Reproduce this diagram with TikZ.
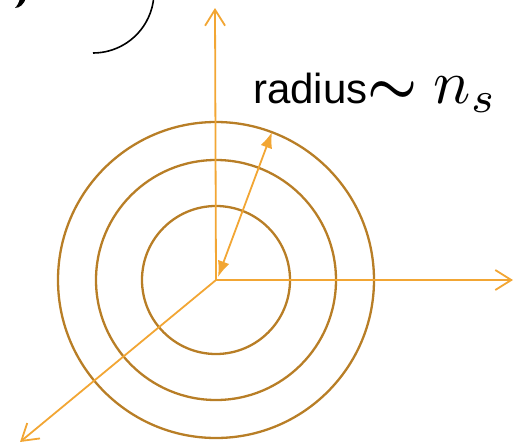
\documentclass[tikz,border=0pt]{standalone}
\usepackage{graphicx}
\usepackage{fontspec}
\setmainfont{Liberation Sans}
\usetikzlibrary{arrows.meta}
\definecolor{ringc}{RGB}{184,126,38}
\definecolor{axisc}{RGB}{242,166,52}
\begin{document}
\begin{tikzpicture}[x=1pt,y=-1pt,
  ring/.style={draw=ringc,line width=2.3pt},
  axisline/.style={draw=axisc,line width=1.8pt,-{Straight Barb[length=16pt,width=20pt,line width=1.8pt]}},
  radarrow/.style={draw=axisc,line width=1.8pt,{Latex[length=16pt,width=12pt]}-{Latex[length=16pt,width=12pt]}}]
\useasboundingbox (0,0) rectangle (515,445);
\clip (0,0) rectangle (515,445);
\coordinate (O) at (216,280);
\coordinate (yt) at (215,8);
\coordinate (xt) at (513,280);
\coordinate (zt) at (20,442);
\coordinate (r0) at (218,277);
\coordinate (r1) at (272,132);
% rings
\draw[ring] (O) circle[radius=74];
\draw[ring] (O) circle[radius=120];
\draw[ring] (O) circle[radius=158];
% axes
\draw[axisline] (O) -- (yt);
\draw[axisline] (O) -- (xt);
\draw[axisline] (O) -- (zt);
\draw[radarrow] (r0) -- (r1);
% label
\node[anchor=base west,inner sep=0pt] (lab) at (253,103)
  {{\fontsize{42}{50}\selectfont radius}\scalebox{5.6}{\boldmath$\sim$}\hspace{16pt}\scalebox{6.2}{$n_s$}};
% partial black arc and glyph fragment
\draw[black,line width=1.6pt] (93,53) arc[start angle=90,end angle=-10,radius=61];
\fill[black] (26,-2) .. controls (24,4) and (20,8) .. (15,8)
  .. controls (17,6) and (19,3) .. (20,-2) -- cycle;
\end{tikzpicture}
\end{document}
